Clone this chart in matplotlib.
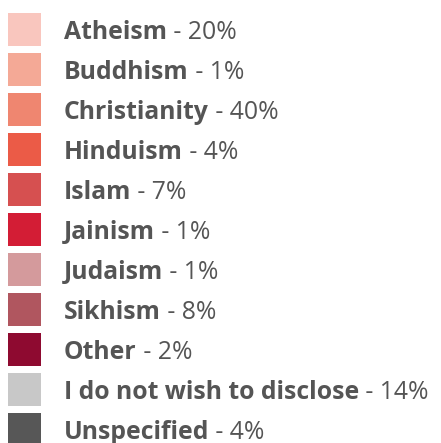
import matplotlib
matplotlib.use('Agg')
import matplotlib.pyplot as plt

categories = ['Atheism', 'Buddhism', 'Christianity', 'Hinduism', 'Islam', 'Jainism',
              'Judaism', 'Sikhism', 'Other', 'I do not wish to disclose', 'Unspecified']
percents = [20, 1, 40, 4, 7, 1, 1, 8, 2, 14, 4]
colors = ['#F9C6BE', '#F4A996', '#EF8670', '#EB5B47', '#D65050', '#D31D35',
          '#D49A9C', '#B0565F', '#8E0A30', '#C8C8C8', '#575757']

W, H = 441, 443
fig = plt.figure(figsize=(W / 100, H / 100), dpi=100)
ax = fig.add_axes([0, 0, 1, 1])
ax.set_xlim(0, W)
ax.set_ylim(H, 0)
ax.axis('off')

text_col = '#555555'
fs = 17.8
for i, (cat, pct, col) in enumerate(zip(categories, percents, colors)):
    yc = 29.5 + 40 * i
    ax.bar(24.5, 33, width=33, bottom=yc - 16.5, color=col, linewidth=0)
    t = ax.text(64, yc + 9.5, cat, fontsize=fs, fontweight='bold', color=text_col,
                family='Open Sans', va='baseline', ha='left')
    ax.annotate(f' - {pct}%', xy=(1, 0), xycoords=t, xytext=(0, 0),
                textcoords='offset points', fontsize=fs, color=text_col,
                family='Open Sans', va='bottom', ha='left')

fig.savefig('out.png', dpi=100)
